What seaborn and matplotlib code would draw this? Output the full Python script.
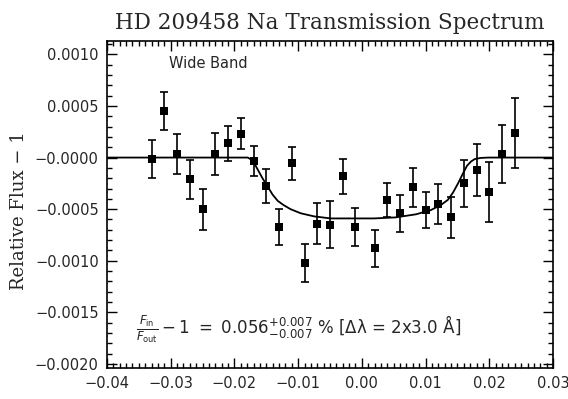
import numpy as np
import pandas as pd
import matplotlib
matplotlib.use("Agg")
import matplotlib.pyplot as plt
from matplotlib.ticker import MultipleLocator, FixedLocator, FixedFormatter
import seaborn as sns

# ---- data ----
wavelength = [-0.033, -0.031, -0.029, -0.027, -0.025, -0.023, -0.021, -0.019,
              -0.017, -0.015, -0.013, -0.011, -0.009, -0.007, -0.005, -0.003,
              -0.001, 0.002, 0.004, 0.006, 0.008, 0.010, 0.012, 0.014,
              0.016, 0.018, 0.020, 0.022, 0.024]
rel_flux = [-0.000015, 0.00045, 0.000034, -0.00021, -0.00050, 0.000034, 0.00014, 0.00023,
            -0.000034, -0.00028, -0.00067, -0.000053, -0.00102, -0.00064, -0.00065, -0.00018,
            -0.00067, -0.00088, -0.00041, -0.00054, -0.00029, -0.00051, -0.00045, -0.00058,
            -0.00025, -0.00012, -0.00033, 0.000034, 0.00024]
flux_err = [0.000185, 0.000185, 0.00019, 0.00019, 0.0002, 0.0002, 0.00017, 0.00015,
            0.000146, 0.000165, 0.000175, 0.00016, 0.000185, 0.0002, 0.00023, 0.00017,
            0.000185, 0.00018, 0.000165, 0.00018, 0.000185, 0.000175, 0.00019, 0.0002,
            0.00023, 0.00025, 0.00029, 0.00028, 0.00034]

model_x = [-0.040, -0.0179, -0.0171, -0.0164, -0.0156, -0.0148, -0.0140, -0.0132,
           -0.0123, -0.0112, -0.0096, -0.0075, -0.0049, -0.0017, 0.0019, 0.0053,
           0.0085, 0.0108, 0.0124, 0.0135, 0.0143, 0.0151, 0.0159, 0.0165,
           0.0171, 0.0177, 0.0186, 0.0198, 0.030]
model_y = [0.0, 0.0, -0.00003, -0.00011, -0.00020, -0.00028, -0.00036, -0.00042,
           -0.00046, -0.00050, -0.00054, -0.00057, -0.00059, -0.00059, -0.00059, -0.00058,
           -0.00055, -0.00051, -0.00046, -0.00041, -0.00034, -0.00025, -0.00015, -0.00008,
           -0.00004, -0.000015, -0.000004, 0.0, 0.0]

x_ticks = [-0.04, -0.03, -0.02, -0.01, 0.00, 0.01, 0.02, 0.03]
x_tick_labels = ["\u22120.04", "\u22120.03", "\u22120.02", "\u22120.01", "0.00", "0.01", "0.02", "0.03"]
y_ticks = [0.0010, 0.0005, 0.0, -0.0005, -0.0010, -0.0015, -0.0020]
y_tick_labels = ["0.0010", "0.0005", "\u22120.0000", "\u22120.0005", "\u22120.0010", "\u22120.0015", "\u22120.0020"]

title = "HD 209458 Na Transmission Spectrum"
ylabel = "Relative Flux \u2212 1"
band_label = "Wide Band"
result_text = (r"$\frac{F_{\mathrm{in}}}{F_{\mathrm{out}}}-1\ =\ 0.056^{+0.007}_{-0.007}$"
               " % [\u0394\u03bb = 2x3.0 \u00c5]")

# ---- plotting ----
sns.set_style("ticks")
plt.rcParams["font.family"] = ["DejaVu Sans"]
plt.rcParams["mathtext.fontset"] = "dejavusans"

fig = plt.figure(figsize=(5.68, 3.99), dpi=100)
ax = fig.add_axes([107 / 568, 31 / 399, 446 / 568, 327 / 399])

pts = pd.DataFrame({"x": wavelength, "y": rel_flux, "err": flux_err})
mdl = pd.DataFrame({"x": model_x, "y": model_y})

sns.lineplot(data=mdl, x="x", y="y", ax=ax, color="black", lw=1.3,
             estimator=None, sort=False, legend=False)
ax.errorbar(pts["x"], pts["y"], yerr=pts["err"], fmt="none", ecolor="black",
            elinewidth=1.2, capsize=3.2, capthick=1.2)
sns.scatterplot(data=pts, x="x", y="y", ax=ax, marker="s", s=40, color="black",
                edgecolor="black", linewidth=0, legend=False, zorder=5)

ax.set_xlim(-0.04, 0.03)
ax.set_ylim(-0.00204, 0.00113)

ax.xaxis.set_major_locator(FixedLocator(x_ticks))
ax.xaxis.set_major_formatter(FixedFormatter(x_tick_labels))
ax.xaxis.set_minor_locator(MultipleLocator(0.001))
ax.yaxis.set_major_locator(FixedLocator(y_ticks))
ax.yaxis.set_major_formatter(FixedFormatter(y_tick_labels))
ax.yaxis.set_minor_locator(MultipleLocator(0.0001))

ax.tick_params(which="both", direction="in", top=True, right=True, color="black", width=1.0)
ax.tick_params(which="major", length=7, labelsize=10.5, pad=6)
ax.tick_params(which="minor", length=3.5)
for sp in ax.spines.values():
    sp.set_linewidth(1.2)
    sp.set_color("black")

ax.set_xlabel("")
ax.set_ylabel(ylabel, family="DejaVu Serif", fontsize=13, labelpad=6)
ax.yaxis.set_label_coords(-0.178, 0.48)
ax.set_title(title, family="DejaVu Serif", fontsize=15.5, pad=9)

ax.text(0.14, 0.93, band_label, transform=ax.transAxes, fontsize=10.5, va="center", ha="left")
ax.text(0.065, 0.12, result_text, transform=ax.transAxes, fontsize=12, va="center", ha="left")

fig.savefig("out.png", dpi=100)
